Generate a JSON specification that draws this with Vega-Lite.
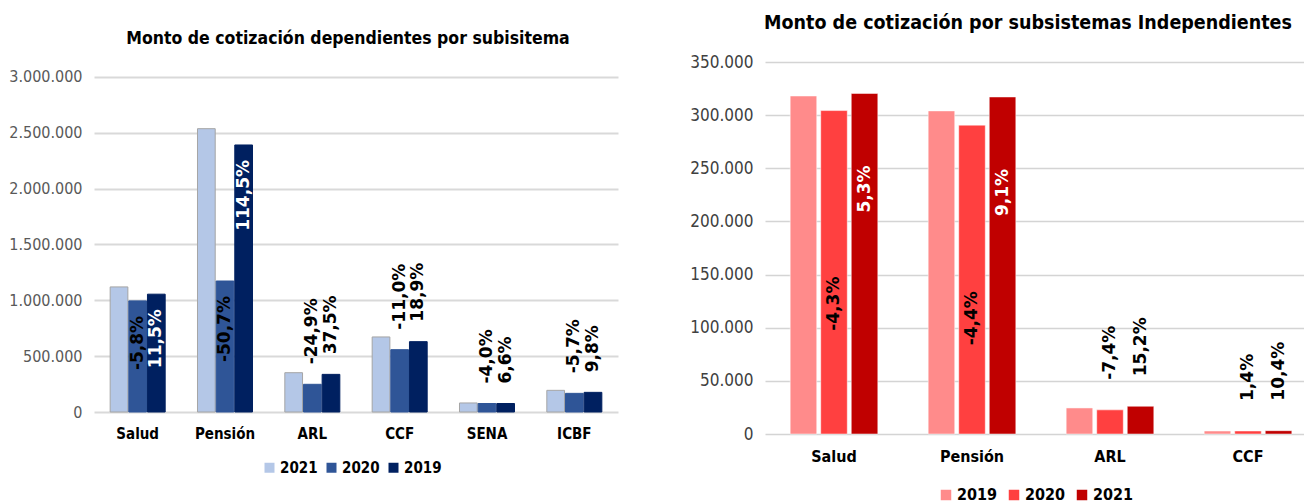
{
  "$schema": "https://vega.github.io/schema/vega-lite/v6.json",
  "padding": {"left": 8, "top": 12, "right": 0, "bottom": 0},
  "background": "white",
  "config": {
    "locale": {"number": {"decimal": ",", "thousands": ".", "grouping": [3], "currency": ["$", ""]}},
    "view": {"stroke": null},
    "font": "DejaVu Sans Condensed, DejaVu Sans"
  },
  "datasets": {
    "dep": [
      {"sub": "Salud", "year": "2021", "value": 1120000},
      {"sub": "Salud", "year": "2020", "value": 995000, "label": "-5,8%"},
      {"sub": "Salud", "year": "2019", "value": 1055000, "label": "11,5%"},
      {"sub": "Pensión", "year": "2021", "value": 2537000},
      {"sub": "Pensión", "year": "2020", "value": 1173000, "label": "-50,7%"},
      {"sub": "Pensión", "year": "2019", "value": 2391000, "label": "114,5%"},
      {"sub": "ARL", "year": "2021", "value": 352000},
      {"sub": "ARL", "year": "2020", "value": 248000, "label": "-24,9%"},
      {"sub": "ARL", "year": "2019", "value": 337000, "label": "37,5%"},
      {"sub": "CCF", "year": "2021", "value": 672000},
      {"sub": "CCF", "year": "2020", "value": 558000, "label": "-11,0%"},
      {"sub": "CCF", "year": "2019", "value": 630000, "label": "18,9%"},
      {"sub": "SENA", "year": "2021", "value": 81000},
      {"sub": "SENA", "year": "2020", "value": 76000, "label": "-4,0%"},
      {"sub": "SENA", "year": "2019", "value": 76000, "label": "6,6%"},
      {"sub": "ICBF", "year": "2021", "value": 194000},
      {"sub": "ICBF", "year": "2020", "value": 167000, "label": "-5,7%"},
      {"sub": "ICBF", "year": "2019", "value": 176000, "label": "9,8%"}
    ],
    "ind": [
      {"sub": "Salud", "year": "2019", "value": 318000},
      {"sub": "Salud", "year": "2020", "value": 304300, "label": "-4,3%"},
      {"sub": "Salud", "year": "2021", "value": 320400, "label": "5,3%"},
      {"sub": "Pensión", "year": "2019", "value": 304000},
      {"sub": "Pensión", "year": "2020", "value": 290600, "label": "-4,4%"},
      {"sub": "Pensión", "year": "2021", "value": 317100, "label": "9,1%"},
      {"sub": "ARL", "year": "2019", "value": 24500},
      {"sub": "ARL", "year": "2020", "value": 22700, "label": "-7,4%"},
      {"sub": "ARL", "year": "2021", "value": 26100, "label": "15,2%"},
      {"sub": "CCF", "year": "2019", "value": 2800},
      {"sub": "CCF", "year": "2020", "value": 2840, "label": "1,4%"},
      {"sub": "CCF", "year": "2021", "value": 3130, "label": "10,4%"}
    ]
  },
  "resolve": {
    "scale": {"color": "independent", "xOffset": "independent", "stroke": "independent"},
    "legend": {"color": "independent"}
  },
  "hconcat": [
    {
      "width": 524,
      "height": 350,
      "title": {
        "text": "Monto de cotización dependientes por subisitema",
        "fontSize": 17.5,
        "font": "DejaVu Sans Condensed, DejaVu Sans",
        "fontWeight": "bold",
        "color": "#000000",
        "offset": 15,
        "frame": "group",
        "anchor": "middle",
        "dx": -8
      },
      "data": {"name": "dep"},
      "encoding": {
        "x": {
          "field": "sub",
          "type": "nominal",
          "sort": ["Salud", "Pensión", "ARL", "CCF", "SENA", "ICBF"],
          "scale": {"paddingInner": 0.37, "paddingOuter": 0.185},
          "axis": {
            "title": null,
            "labelAngle": 0,
            "labelFont": "DejaVu Sans Condensed, DejaVu Sans",
            "labelFontWeight": "bold",
            "labelFontSize": 15,
            "labelColor": "#000000",
            "domain": false,
            "ticks": false,
            "labelPadding": 14
          }
        },
        "xOffset": {
          "field": "year",
          "type": "nominal",
          "scale": {"domain": ["2021", "2020", "2019"], "paddingInner": 0.05}
        },
        "y": {
          "field": "value",
          "type": "quantitative",
          "scale": {"domain": [0, 3134000], "nice": false},
          "axis": {
            "title": null,
            "values": [0, 500000, 1000000, 1500000, 2000000, 2500000, 3000000],
            "format": ",.0f",
            "labelFont": "DejaVu Sans Condensed, DejaVu Sans",
            "labelFontSize": 16,
            "labelColor": "#595959",
            "domain": false,
            "ticks": false,
            "grid": true,
            "gridColor": "#d9d9d9",
            "gridWidth": 2,
            "labelPadding": 12
          }
        }
      },
      "layer": [
        {
          "mark": {"type": "bar", "strokeWidth": 1},
          "encoding": {
            "color": {
              "field": "year",
              "type": "nominal",
              "scale": {"domain": ["2021", "2020", "2019"], "range": ["#b4c7e7", "#2f5597", "#002060"]},
              "legend": {
                "title": null,
                "orient": "none",
                "legendX": 168,
                "legendY": 398,
                "direction": "horizontal",
                "symbolType": "square",
                "symbolSize": 100,
                "symbolStrokeWidth": 0,
                "labelFont": "DejaVu Sans Condensed, DejaVu Sans",
                "labelFontSize": 15,
                "labelFontWeight": "bold",
                "labelColor": "#000000",
                "columnPadding": 6,
                "labelOffset": 3,
                "padding": 0
              }
            },
            "stroke": {
              "field": "year",
              "type": "nominal",
              "scale": {"domain": ["2021", "2020", "2019"], "range": ["#a5a5a5", "#2f5597", "#002060"]},
              "legend": null
            }
          }
        },
        {
          "transform": [{"filter": "isValid(datum.label) && datum.value > 900000"}],
          "mark": {"type": "text", "angle": 270, "align": "right", "baseline": "middle", "dx": -15, "font": "DejaVu Sans", "fontWeight": "bold", "fontSize": 17},
          "encoding": {
            "text": {"field": "label", "type": "nominal"},
            "color": {"condition": {"test": "datum.year == '2019'", "value": "#ffffff"}, "value": "#000000"}
          }
        },
        {
          "transform": [{"filter": "isValid(datum.label) && datum.value <= 900000"}],
          "mark": {"type": "text", "angle": 270, "align": "left", "baseline": "middle", "dx": 20, "font": "DejaVu Sans", "fontWeight": "bold", "fontSize": 17, "color": "#000000"},
          "encoding": {
            "text": {"field": "label", "type": "nominal"}
          }
        }
      ]
    },
    {
      "width": 552,
      "height": 372,
      "title": {
        "text": "Monto de cotización por subsistemas Independientes",
        "fontSize": 19.5,
        "font": "DejaVu Sans Condensed, DejaVu Sans",
        "fontWeight": "bold",
        "color": "#000000",
        "offset": 20,
        "frame": "group",
        "anchor": "middle",
        "dx": -13
      },
      "data": {"name": "ind"},
      "encoding": {
        "x": {
          "field": "sub",
          "type": "nominal",
          "sort": ["Salud", "Pensión", "ARL", "CCF"],
          "scale": {"paddingInner": 0.365, "paddingOuter": 0.1825},
          "axis": {
            "title": null,
            "labelAngle": 0,
            "labelFont": "DejaVu Sans Condensed, DejaVu Sans",
            "labelFontWeight": "bold",
            "labelFontSize": 16,
            "labelColor": "#000000",
            "domain": false,
            "ticks": false,
            "labelPadding": 14
          }
        },
        "xOffset": {
          "field": "year",
          "type": "nominal",
          "scale": {"domain": ["2019", "2020", "2021"], "paddingInner": 0.13}
        },
        "y": {
          "field": "value",
          "type": "quantitative",
          "scale": {"domain": [0, 350000], "nice": false},
          "axis": {
            "title": null,
            "values": [0, 50000, 100000, 150000, 200000, 250000, 300000, 350000],
            "format": ",.0f",
            "labelFont": "DejaVu Sans Condensed, DejaVu Sans",
            "labelFontSize": 17,
            "labelColor": "#404040",
            "domain": false,
            "ticks": false,
            "grid": true,
            "gridColor": "#d4d4d4",
            "gridWidth": 1.5,
            "labelPadding": 12
          }
        }
      },
      "layer": [
        {
          "mark": {"type": "bar", "stroke": "#ffffff", "strokeWidth": 0.5},
          "encoding": {
            "color": {
              "field": "year",
              "type": "nominal",
              "scale": {"domain": ["2019", "2020", "2021"], "range": ["#ff8b8b", "#ff4040", "#c00000"]},
              "legend": {
                "title": null,
                "orient": "none",
                "legendX": 173,
                "legendY": 425,
                "direction": "horizontal",
                "symbolType": "square",
                "symbolSize": 110,
                "symbolStrokeWidth": 0,
                "labelFont": "DejaVu Sans Condensed, DejaVu Sans",
                "labelFontSize": 16,
                "labelFontWeight": "bold",
                "labelColor": "#000000",
                "columnPadding": 8,
                "labelOffset": 3,
                "padding": 0
              }
            }
          }
        },
        {
          "transform": [{"filter": "isValid(datum.label) && datum.year == '2021' && datum.value > 100000"}],
          "mark": {"type": "text", "angle": 270, "align": "right", "baseline": "middle", "dx": -72, "font": "DejaVu Sans", "fontWeight": "bold", "fontSize": 17, "color": "#ffffff"},
          "encoding": {
            "text": {"field": "label", "type": "nominal"}
          }
        },
        {
          "transform": [{"filter": "isValid(datum.label) && datum.year == '2020' && datum.value > 100000"}],
          "mark": {"type": "text", "angle": 270, "align": "right", "baseline": "middle", "dx": -166, "font": "DejaVu Sans", "fontWeight": "bold", "fontSize": 17, "color": "#000000"},
          "encoding": {
            "text": {"field": "label", "type": "nominal"}
          }
        },
        {
          "transform": [{"filter": "isValid(datum.label) && datum.value <= 100000"}],
          "mark": {"type": "text", "angle": 270, "align": "left", "baseline": "middle", "dx": 30, "font": "DejaVu Sans", "fontWeight": "bold", "fontSize": 17, "color": "#000000"},
          "encoding": {
            "text": {"field": "label", "type": "nominal"}
          }
        }
      ]
    }
  ],
  "spacing": 71
}
